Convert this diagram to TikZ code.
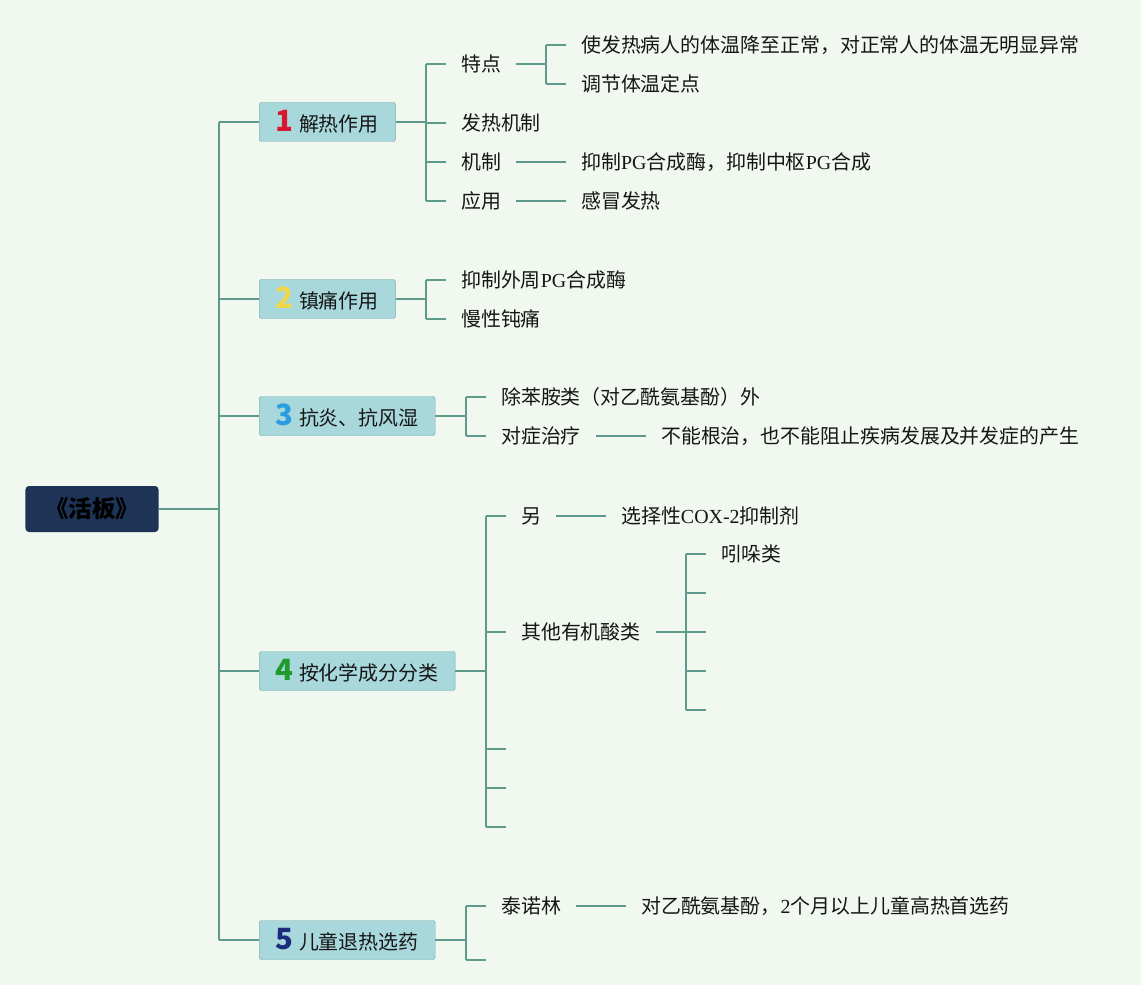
\documentclass[tikz,border=0pt]{standalone}
\usepackage{fontspec}
\setmainfont{Liberation Serif}
\setsansfont{Noto Sans CJK SC}
\usetikzlibrary{positioning}

\definecolor{bgmint}{HTML}{F0F8EF}
\definecolor{linegreen}{HTML}{5E9B8C}
\definecolor{boxteal}{HTML}{A8D8DB}
\definecolor{boxedge}{HTML}{78ACA8}
\definecolor{rootnavy}{HTML}{1D3456}
\definecolor{numred}{HTML}{D8182F}
\definecolor{numyellow}{HTML}{F0D64A}
\definecolor{numblue}{HTML}{2A9CE2}
\definecolor{numgreen}{HTML}{1F9A2B}
\definecolor{numnavy}{HTML}{1B2B7E}
\definecolor{inkgray}{HTML}{161616}

\newcommand{\topicnum}[2]{{\fontsize{25}{21}\selectfont\bfseries\color{#1}#2}\hspace{0.16cm}}

\begin{document}
\begin{tikzpicture}[x=0.03cm, y=-0.03cm, font=\sffamily\fontsize{17}{20}\selectfont, text=inkgray,
  link/.style={draw=linegreen, line width=1.5pt},
  feeder/.style={draw=linegreen, line width=2.3pt},
  topic/.style={draw=boxedge, fill=boxteal, rounded corners=2pt, anchor=west, minimum height=1.17cm, inner xsep=0.5cm},
  leaf/.style={anchor=west, inner xsep=0.45cm, inner ysep=0pt}]
				\fill[bgmint] (0,0) rectangle (1141,985);

				\node[fill=rootnavy, rounded corners=3pt, minimum width=3.99cm, minimum height=1.38cm, font=\sffamily\bfseries\fontsize{20}{22}\selectfont, text=black] (root) at (92,509) {《活板》};
				\coordinate (trunk) at (219,509);

				\node[topic] (b1) at (259,122) {\topicnum{numred}{1}解热作用};
				\node[topic] (b2) at (259,299) {\topicnum{numyellow}{2}镇痛作用};
				\node[topic] (b3) at (259,416) {\topicnum{numblue}{3}抗炎、抗风湿};
				\node[topic] (b4) at (259,671) {\topicnum{numgreen}{4}按化学成分分类};
				\node[topic] (b5) at (259,940) {\topicnum{numnavy}{5}儿童退热选药};

				\node[leaf] (tedian) at (446,64) {特点};
				\node[leaf] (fare) at (446,123) {发热机制};
				\node[leaf] (jizhi) at (446,162) {机制};
				\node[leaf] (yingyong) at (446,201) {应用};
				\node[leaf] (tedian1) at (566,45) {使发热病人的体温降至正常，对正常人的体温无明显异常};
				\node[leaf] (tedian2) at (566,84) {调节体温定点};
				\node[leaf] (jizhi1) at (566,162) {抑制\textrm{PG}合成酶，抑制中枢\textrm{PG}合成};
				\node[leaf] (yingyong1) at (566,201) {感冒发热};
				\coordinate (j1) at (426,122);
				\coordinate (j11) at (546,64);

				\node[leaf] (zhitong1) at (446,280) {抑制外周\textrm{PG}合成酶};
				\node[leaf] (zhitong2) at (446,319) {慢性钝痛};
				\coordinate (j2) at (426,299);

				\node[leaf] (yan1) at (486,397) {除苯胺类（对乙酰氨基酚）外};
				\node[leaf] (yan2) at (486,436) {对症治疗};
				\node[leaf] (yan3) at (646,436) {不能根治，也不能阻止疾病发展及并发症的产生};
				\coordinate (j3) at (466,416);

				\node[leaf] (ling) at (506,516) {另};
				\node[leaf] (cox) at (606,516) {选择性\textrm{COX-2}抑制剂};
				\node[leaf] (qita) at (506,632) {其他有机酸类};
				\node[leaf] (yinduo) at (706,554) {吲哚类};
				\coordinate (j4) at (486,671);
				\coordinate (k1) at (506,749);
				\coordinate (k2) at (506,788);
				\coordinate (k3) at (506,827);
				\coordinate (j41) at (686,632);
				\coordinate (m1) at (706,593);
				\coordinate (m2) at (706,632);
				\coordinate (m3) at (706,671);
				\coordinate (m4) at (706,710);

				\node[leaf] (tai) at (486,906) {泰诺林};
				\node[leaf] (tai1) at (626,906) {对乙酰氨基酚，\textrm{2}个月以上儿童高热首选药};
				\coordinate (j5) at (466,940);
				\coordinate (n1) at (486,960);

				\draw[feeder] (root.east) -- (trunk);
				\draw[link] (trunk |- b1) -- (trunk |- b5);
				\draw[link] (trunk |- b1) -- (b1.west);
				\draw[link] (trunk |- b2) -- (b2.west);
				\draw[link] (trunk |- b3) -- (b3.west);
				\draw[link] (trunk |- b4) -- (b4.west);
				\draw[link] (trunk |- b5) -- (b5.west);

				\draw[feeder] (b1.east) -- (j1);
				\draw[link] (j1 |- tedian) -- (j1 |- yingyong);
				\draw[link] (j1 |- tedian) -- (tedian.west);
				\draw[link] (j1 |- fare) -- (fare.west);
				\draw[link] (j1 |- jizhi) -- (jizhi.west);
				\draw[link] (j1 |- yingyong) -- (yingyong.west);
				\draw[link] (tedian.east) -- (j11);
				\draw[link] (j11 |- tedian1) -- (j11 |- tedian2);
				\draw[link] (j11 |- tedian1) -- (tedian1.west);
				\draw[link] (j11 |- tedian2) -- (tedian2.west);
				\draw[link] (jizhi.east) -- (jizhi1.west);
				\draw[link] (yingyong.east) -- (yingyong1.west);

				\draw[link] (b2.east) -- (j2);
				\draw[link] (j2 |- zhitong1) -- (j2 |- zhitong2);
				\draw[link] (j2 |- zhitong1) -- (zhitong1.west);
				\draw[link] (j2 |- zhitong2) -- (zhitong2.west);

				\draw[link] (b3.east) -- (j3);
				\draw[link] (j3 |- yan1) -- (j3 |- yan2);
				\draw[link] (j3 |- yan1) -- (yan1.west);
				\draw[link] (j3 |- yan2) -- (yan2.west);
				\draw[link] (yan2.east) -- (yan3.west);

				\draw[feeder] (b4.east) -- (j4);
				\draw[link] (j4 |- ling) -- (j4 |- k3);
				\draw[link] (j4 |- ling) -- (ling.west);
				\draw[link] (j4 |- qita) -- (qita.west);
				\draw[link] (j4 |- k1) -- (k1);
				\draw[link] (j4 |- k2) -- (k2);
				\draw[link] (j4 |- k3) -- (k3);
				\draw[link] (ling.east) -- (cox.west);
				\draw[feeder] (qita.east) -- (j41);
				\draw[link] (j41 |- yinduo) -- (j41 |- m4);
				\draw[link] (j41 |- yinduo) -- (yinduo.west);
				\draw[link] (j41 |- m1) -- (m1);
				\draw[link] (j41 |- m2) -- (m2);
				\draw[link] (j41 |- m3) -- (m3);
				\draw[link] (j41 |- m4) -- (m4);

				\draw[link] (b5.east) -- (j5);
				\draw[link] (j5 |- tai) -- (j5 |- n1);
				\draw[link] (j5 |- tai) -- (tai.west);
				\draw[link] (j5 |- n1) -- (n1);
				\draw[link] (tai.east) -- (tai1.west);
			\end{tikzpicture}
\end{document}
